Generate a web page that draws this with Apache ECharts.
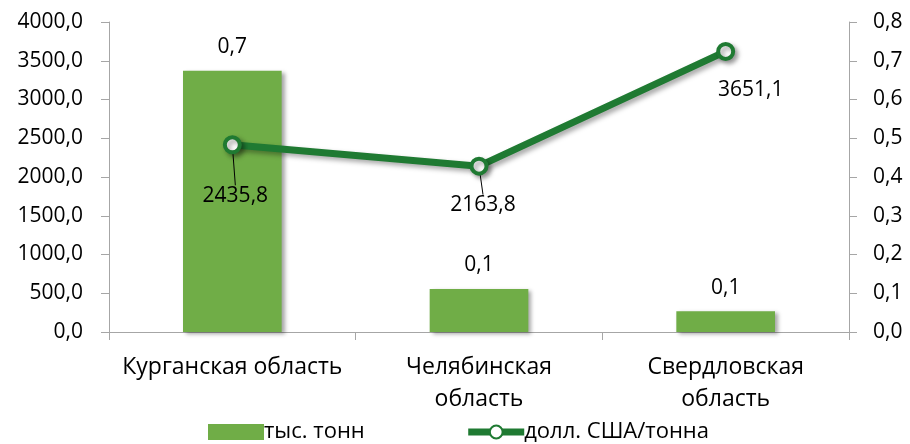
<!DOCTYPE html>
<html><head><meta charset="utf-8">
<script src="https://cdn.jsdelivr.net/npm/echarts@6/dist/echarts.min.js"></script>
<style>html,body{margin:0;padding:0;background:#fff}#c{width:910px;height:444px}</style>
</head><body><div id="c"></div>
<script>
const categories = ['Курганская область', 'Челябинская\nобласть', 'Свердловская\nобласть'];
const barValues = [3372, 555, 267];
const barLabels = ['0,7', '0,1', '0,1'];
const lineValues = [0.483, 0.428, 0.724];
const lineLabels = ['2435,8', '2163,8', '3651,1'];
const leftTicks = [0, 500, 1000, 1500, 2000, 2500, 3000, 3500, 4000];
const rightTicks = [0, 0.1, 0.2, 0.3, 0.4, 0.5, 0.6, 0.7, 0.8];
const seriesNames = ['тыс. тонн', 'долл. США/тонна'];

const FONT = '"Open Sans", "Noto Sans", sans-serif';
const axisGray = '#a6a6a6';
const barColor = '#70ad47';
const lineColor = '#1f7a32';
const labelOffsets = [[3, 31], [4, 19], [25, 19]];
const showLeader = [true, true, false];

const chart = echarts.init(document.getElementById('c'), null, {renderer: 'canvas'});
chart.setOption({
  animation: false,
  textStyle: {fontFamily: FONT, color: '#000'},
  grid: {left: 109, right: 61, top: 22, bottom: 112},
  legend: {
    left: 203, top: 416, itemWidth: 56, itemHeight: 16, itemGap: 100,
    textStyle: {fontFamily: FONT, fontSize: 22, color: '#000', padding: [0, 0, 0, -5]},
    data: [
      {name: seriesNames[0], icon: 'rect', itemStyle: {color: barColor}},
      {name: seriesNames[1], lineStyle: {width: 7, color: lineColor}}
    ]
  },
  xAxis: {
    type: 'category', data: categories,
    axisLine: {lineStyle: {color: axisGray, width: 1}},
    axisTick: {show: true, length: 8, lineStyle: {color: axisGray}},
    axisLabel: {fontFamily: FONT, fontSize: 23, color: '#000', margin: 19, lineHeight: 32, interval: 0}
  },
  yAxis: [
    {
      type: 'value', min: 0, max: 4000, interval: 500,
      axisLine: {show: true, lineStyle: {color: axisGray}},
      axisTick: {show: true, length: 8, lineStyle: {color: axisGray}},
      splitLine: {show: false},
      axisLabel: {fontFamily: FONT, fontSize: 21, color: '#000', margin: 26,
        formatter: v => leftTicks.includes(v) ? v.toFixed(1).replace('.', ',') : ''}
    },
    {
      type: 'value', min: 0, max: 0.8, interval: 0.1,
      axisLine: {show: true, lineStyle: {color: axisGray}},
      axisTick: {show: true, length: 8, lineStyle: {color: axisGray}},
      splitLine: {show: false},
      axisLabel: {fontFamily: FONT, fontSize: 21, color: '#000', margin: 24,
        formatter: v => rightTicks.some(t => Math.abs(t - v) < 1e-9) ? v.toFixed(1).replace('.', ',') : ''}
    }
  ],
  series: [
    {
      name: seriesNames[0], type: 'bar', yAxisIndex: 0, barWidth: '40%',
      data: barValues,
      itemStyle: {color: barColor, shadowBlur: 4, shadowOffsetX: 3, shadowOffsetY: 2, shadowColor: 'rgba(0,0,0,0.35)'},
      label: {show: true, position: 'top', distance: 13, fontFamily: FONT, fontSize: 21, color: '#000',
        formatter: p => barLabels[p.dataIndex]}
    },
    {
      name: seriesNames[1], type: 'line', yAxisIndex: 1,
      data: lineValues.map((v, i) => ({value: v, labelLine: {show: showLeader[i]}})),
      symbol: 'circle', symbolSize: 15,
      lineStyle: {color: lineColor, width: 7, shadowBlur: 5, shadowOffsetX: 3, shadowOffsetY: 3, shadowColor: 'rgba(0,0,0,0.35)'},
      itemStyle: {color: '#fff', borderColor: lineColor, borderWidth: 4, shadowBlur: 5, shadowOffsetX: 3, shadowOffsetY: 3, shadowColor: 'rgba(0,0,0,0.35)'},
      label: {show: true, position: 'bottom', distance: 0, fontFamily: FONT, fontSize: 21, color: '#000',
        formatter: p => lineLabels[p.dataIndex]},
      labelLine: {show: true, lineStyle: {color: '#000', width: 1}},
      labelLayout: p => ({dx: labelOffsets[p.dataIndex][0], dy: labelOffsets[p.dataIndex][1]})
    }
  ]
});
</script></body></html>
